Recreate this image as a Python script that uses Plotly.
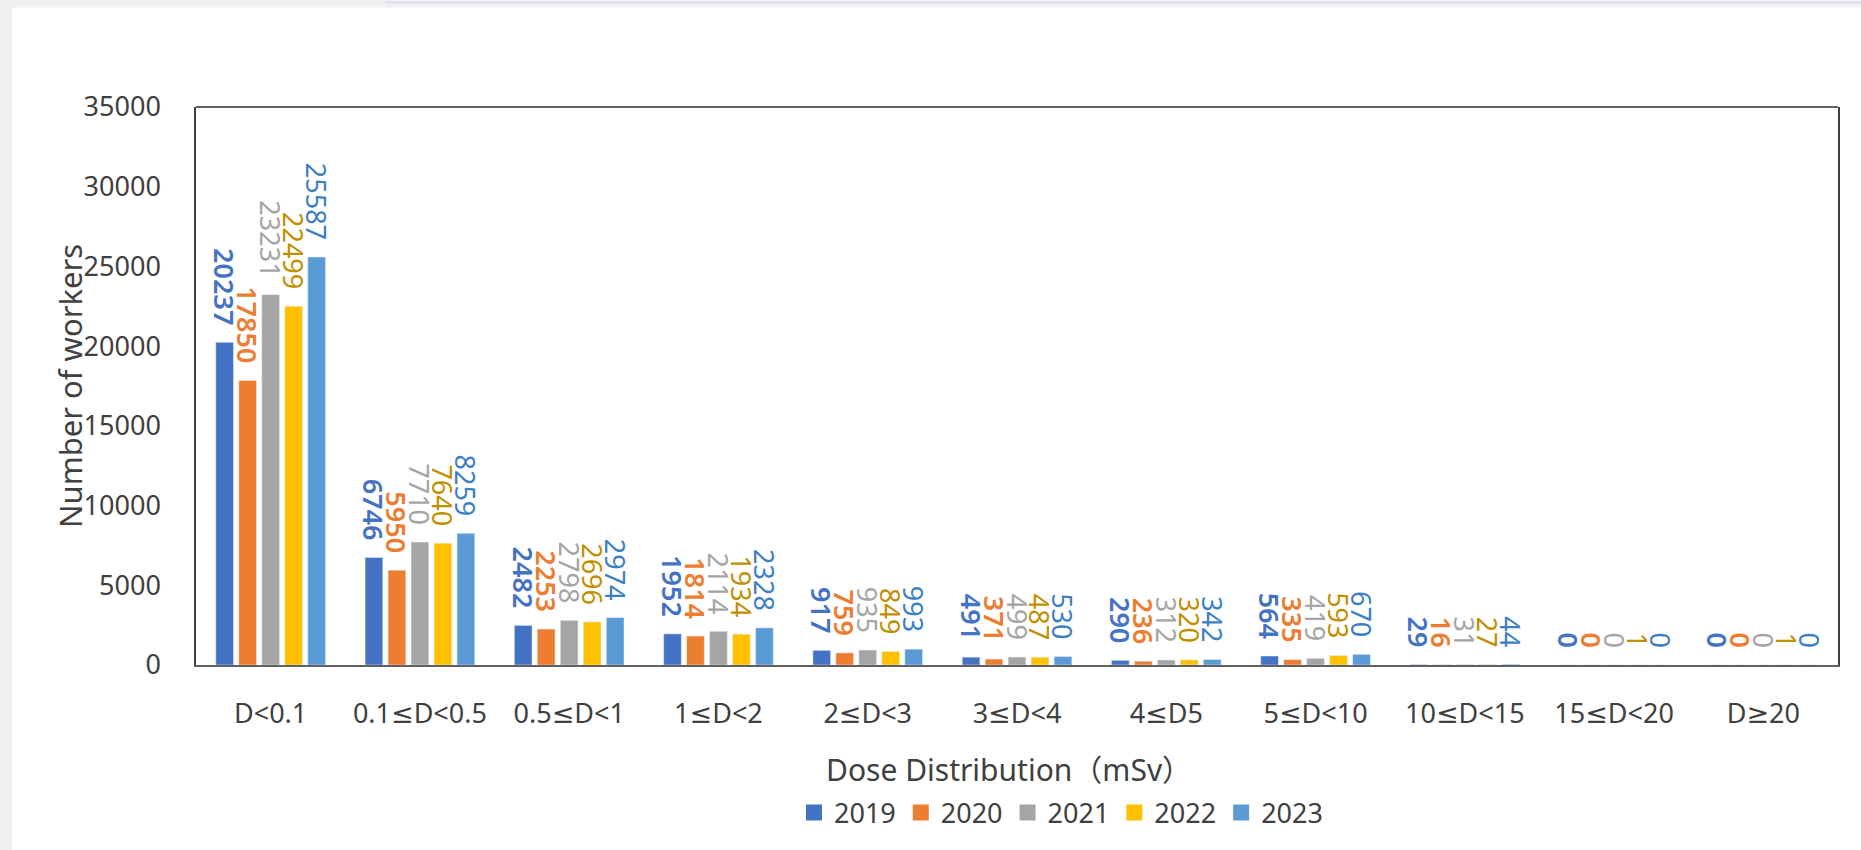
import plotly.graph_objects as go

categories = ["D<0.1", "0.1≤D<0.5", "0.5≤D<1", "1≤D<2", "2≤D<3", "3≤D<4",
              "4≤D5", "5≤D<10", "10≤D<15", "15≤D<20", "D≥20"]
years = ["2019", "2020", "2021", "2022", "2023"]
v2019 = [20237, 6746, 2482, 1952, 917, 491, 290, 564, 29, 0, 0]
v2020 = [17850, 5950, 2253, 1814, 759, 371, 236, 335, 16, 0, 0]
v2021 = [23231, 7710, 2798, 2114, 935, 499, 312, 419, 31, 0, 0]
v2022 = [22499, 7640, 2696, 1934, 849, 487, 320, 593, 27, 1, 1]
v2023 = [25587, 8259, 2974, 2328, 993, 530, 342, 670, 44, 0, 0]
y_ticks = [0, 5000, 10000, 15000, 20000, 25000, 30000, 35000]

series = [v2019, v2020, v2021, v2022, v2023]
bar_colors = ["#4472C4", "#ED7D31", "#A5A5A5", "#FFC000", "#5B9BD5"]
label_colors = ["#4472C4", "#ED7D31", "#A5A5A5", "#BF9000", "#3A80C4"]
label_weights = [600, 600, 400, 400, 400]

FONT = "Noto Sans, DejaVu Sans, Noto Sans CJK SC, sans-serif"
TXT = "#404040"

W, H = 1861, 850
L, R, T, B = 196, 1838, 107, 673

fig = go.Figure()
for name, vals, bc, lc, w in zip(years, series, bar_colors, label_colors, label_weights):
    fig.add_trace(go.Bar(
        x=categories, y=vals, name=name, marker_color=bc,
        text=[f"{v}\u00a0\u00a0" for v in vals],
        textposition="outside", textangle=90, constraintext="none",
        cliponaxis=False,
        textfont=dict(family=FONT, size=27, color=lc, weight=w),
        showlegend=False, hoverinfo="x+y+name",
    ))
    fig.add_trace(go.Scatter(
        x=[None], y=[None], mode="markers", name=name,
        marker=dict(symbol="square", size=16, color=bc),
        showlegend=True,
    ))

def px(x):
    return (x - L) / (R - L)

def py(y):
    return (B - y) / (B - T)

shapes = [
    dict(type="rect", xref="paper", yref="paper", x0=px(-10), x1=px(12), y0=py(870), y1=py(-10),
         fillcolor="#F0F0F0", line_width=0, layer="below"),
    dict(type="rect", xref="paper", yref="paper", x0=px(-10), x1=px(1880), y0=py(6), y1=py(-10),
         fillcolor="#F0F0F0", line_width=0, layer="below"),
    dict(type="line", xref="paper", yref="paper", x0=px(385), x1=px(1880), y0=py(1), y1=py(1),
         line=dict(color="#D6DCF2", width=2), layer="below"),
    dict(type="line", xref="paper", yref="paper", x0=0, x1=1, y0=1, y1=1,
         line=dict(color="#303030", width=1.5)),
]

annotations = [
    dict(text="Number of workers", xref="paper", yref="paper", x=px(70), y=0.5,
         xanchor="center", yanchor="middle", textangle=-90, showarrow=False,
         font=dict(family=FONT, size=31, color=TXT)),
    dict(text="Dose Distribution（mSv）", xref="paper", yref="paper", x=px(1009), y=py(779),
         xanchor="center", yanchor="middle", showarrow=False,
         font=dict(family=FONT, size=30, color=TXT)),
]

fig.update_layout(
    width=W, height=H,
    margin=dict(l=L, r=W - R, t=T, b=H - B),
    paper_bgcolor="white", plot_bgcolor="white",
    barmode="group", bargap=0.23, bargroupgap=0.23,
    font=dict(family=FONT, color=TXT),
    shapes=shapes, annotations=annotations,
    legend=dict(orientation="h", x=px(1061), xanchor="center", y=py(823), yanchor="middle",
                font=dict(family=FONT, size=27, color=TXT), bgcolor="rgba(0,0,0,0)",
                itemclick=False),
    xaxis=dict(
        showline=True, linecolor="#606060", linewidth=2, mirror=False,
        showgrid=False, ticks="", tickfont=dict(family=FONT, size=27, color=TXT),
        ticklabelstandoff=24,
        automargin=False, fixedrange=True,
    ),
    yaxis=dict(
        range=[0, 35000], tickvals=y_ticks, ticktext=[str(t) for t in y_ticks],
        showline=True, linecolor="#404040", linewidth=1.5, mirror=True,
        showgrid=False, zeroline=False, ticks="",
        tickfont=dict(family=FONT, size=27, color=TXT), ticklabelstandoff=28,
        automargin=False, fixedrange=True,
    ),
)

fig.write_html("out.html", include_plotlyjs=True, full_html=True,
               config={"displayModeBar": False},
               post_script="document.body.style.margin='0';document.body.style.overflow='hidden';")
